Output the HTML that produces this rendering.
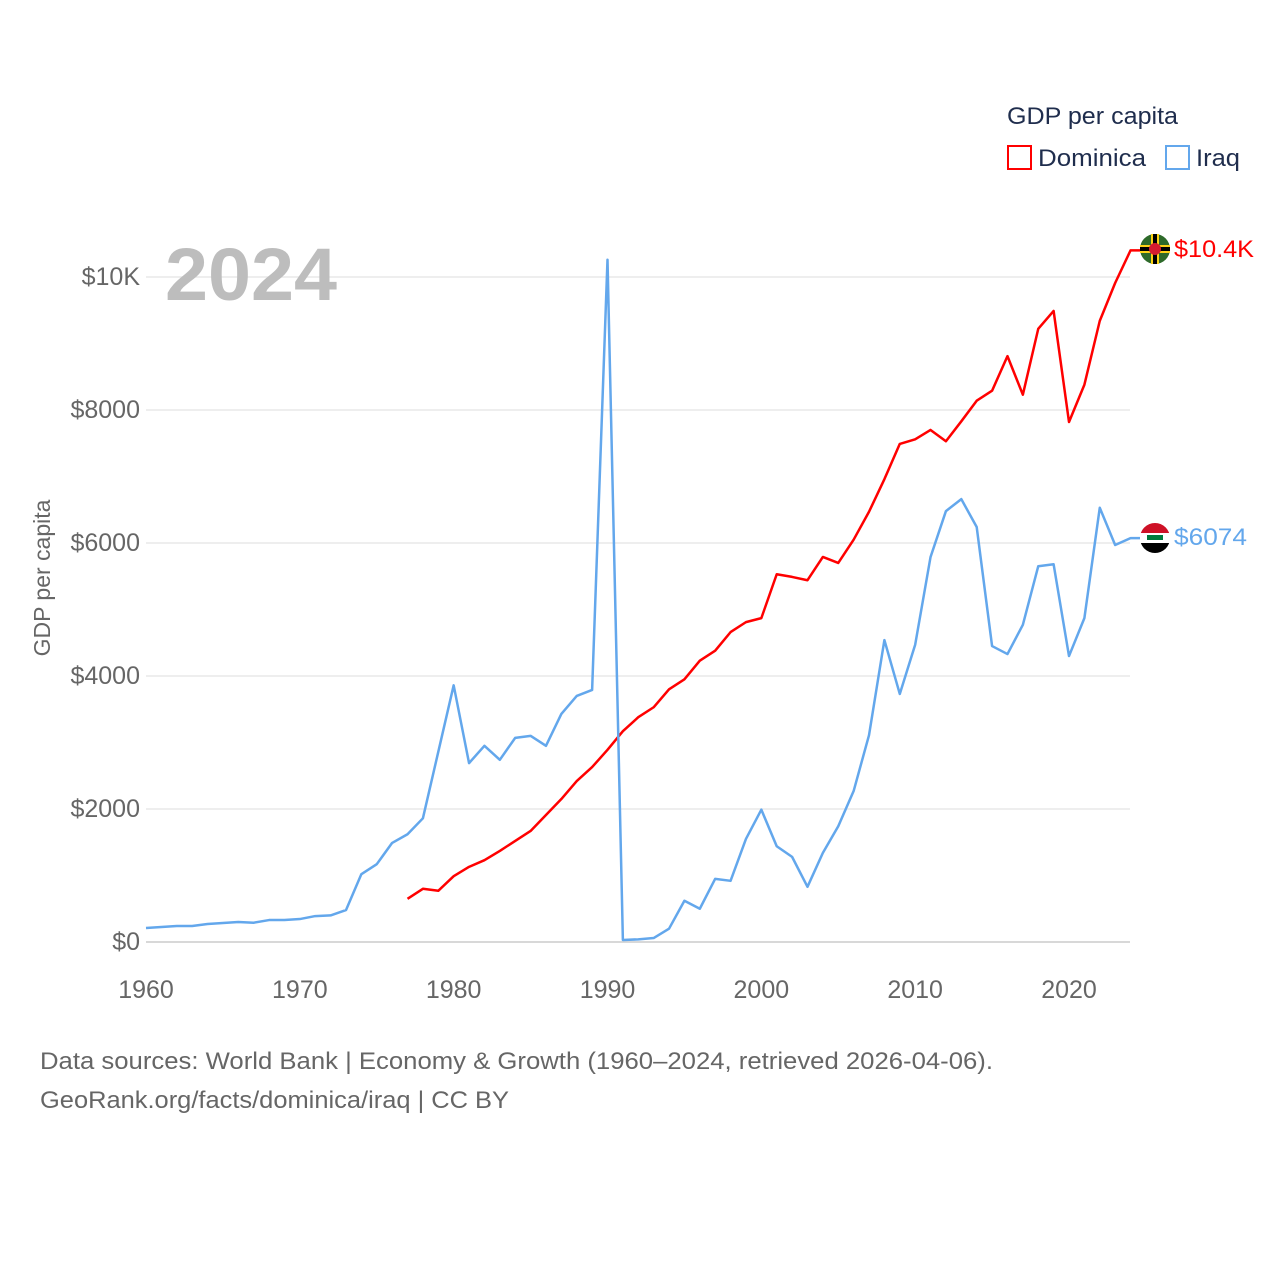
<!DOCTYPE html>
<html><head><meta charset="utf-8"><style>
body{margin:0;background:#fff;font-family:"Liberation Sans",sans-serif}
svg text{font-family:"Liberation Sans",sans-serif}
</style></head><body>
<svg id="chart" width="1280" height="1280" viewBox="0 0 1280 1280" xmlns="http://www.w3.org/2000/svg">
<rect width="1280" height="1280" fill="#fff"/>
<g id="grid"></g>
<g id="yticks"></g>
<g id="xticks"></g>
<text x="165" y="300" font-size="74" font-weight="bold" fill="#bdbdbd" textLength="172" lengthAdjust="spacingAndGlyphs">2024</text>
<text transform="translate(50,578) rotate(-90)" text-anchor="middle" font-size="23" fill="#666">GDP per capita</text>
<g id="series"></g>
<g>
<text x="1007" y="124" font-size="24" fill="#1f2d4d" textLength="171" lengthAdjust="spacingAndGlyphs">GDP per capita</text>
<g><rect x="1008" y="146" width="23" height="23" fill="none" stroke="#ff0000" stroke-width="2"/><text x="1038" y="166" font-size="24" fill="#1f2d4d" textLength="108" lengthAdjust="spacingAndGlyphs">Dominica</text></g>
<g><rect x="1166" y="146" width="23" height="23" fill="none" stroke="#63a7ec" stroke-width="2"/><text x="1196" y="166" font-size="24" fill="#1f2d4d" textLength="44" lengthAdjust="spacingAndGlyphs">Iraq</text></g>
</g>
<g>
<circle cx="1155" cy="249" r="15" fill="#2e6a2a"/><rect x="1140" y="245" width="30" height="8" fill="#fcd116"/><rect x="1151" y="234" width="8" height="30" fill="#fcd116"/><rect x="1140" y="247" width="30" height="4" fill="#000"/><rect x="1153" y="234" width="4" height="30" fill="#000"/><circle cx="1155" cy="249" r="6" fill="#d41c30"/></g>
<g>
<clipPath id="cf"><circle cx="1155" cy="538" r="15"/></clipPath>
<g clip-path="url(#cf)"><rect x="1140" y="523" width="30" height="10" fill="#ce1126"/><rect x="1140" y="533" width="30" height="10" fill="#fff"/><rect x="1140" y="543" width="30" height="10" fill="#000"/><rect x="1147" y="535" width="16" height="5" fill="#007a3d"/></g></g>
<text x="1174" y="257" font-size="24" fill="#ff0000" textLength="80" lengthAdjust="spacingAndGlyphs">$10.4K</text>
<text x="1174" y="545" font-size="24" fill="#63a7ec" textLength="73" lengthAdjust="spacingAndGlyphs">$6074</text>
<text x="40" y="1069" font-size="24" fill="#666" textLength="953" lengthAdjust="spacingAndGlyphs">Data sources: World Bank | Economy &amp; Growth (1960–2024, retrieved 2026-04-06).</text>
<text x="40" y="1108" font-size="24" fill="#666" textLength="469" lengthAdjust="spacingAndGlyphs">GeoRank.org/facts/dominica/iraq | CC BY</text>
</svg>
<script>
const domYears=[1977,1978,1979,1980,1981,1982,1983,1984,1985,1986,1987,1988,1989,1990,1991,1992,1993,1994,1995,1996,1997,1998,1999,2000,2001,2002,2003,2004,2005,2006,2007,2008,2009,2010,2011,2012,2013,2014,2015,2016,2017,2018,2019,2020,2021,2022,2023,2024];
const domValues=[650,800,770,990,1130,1230,1370,1520,1670,1910,2150,2420,2630,2890,3170,3380,3530,3800,3950,4230,4380,4660,4810,4870,5530,5490,5440,5790,5700,6050,6470,6960,7490,7560,7700,7530,7830,8140,8290,8810,8230,9220,9490,7820,8380,9340,9910,10400];
const iraqStart=1960;
const iraqValues=[210,225,240,240,270,285,300,290,330,330,345,390,400,480,1020,1170,1490,1620,1860,2860,3860,2690,2950,2740,3070,3100,2950,3430,3700,3790,10260,30,40,60,200,620,500,950,920,1550,1990,1440,1280,830,1340,1740,2270,3110,4540,3730,4470,5790,6480,6660,6240,4450,4330,4770,5650,5680,4300,4870,6530,5970,6074];
const yTicks=[0,2000,4000,6000,8000,10000];
const yTickLabels=["$0","$2000","$4000","$6000","$8000","$10K"];
const xTicks=[1960,1970,1980,1990,2000,2010,2020];
const NS="http://www.w3.org/2000/svg";
const x=y=>146+(y-1960)*923/60;
const yv=v=>942-v*0.0665;
function mk(t,a,p){const e=document.createElementNS(NS,t);for(const k in a)e.setAttribute(k,a[k]);p.appendChild(e);return e;}
const grid=document.getElementById('grid'),yt=document.getElementById('yticks'),xt=document.getElementById('xticks'),ser=document.getElementById('series');
yTicks.forEach((v,i)=>{
 const l=mk('line',{x1:146,x2:1130,y1:yv(v),y2:yv(v),stroke:v===0?'#ccc':'#e8e8e8','stroke-width':1.5},grid);
 
 
 const t=mk('text',{x:140,y:yv(v)+8,'text-anchor':'end','font-size':25,fill:'#666'},yt);
 
 
 t.textContent=yTickLabels[i];
});
xTicks.forEach(v=>{
 const t=mk('text',{x:x(v),y:998,'text-anchor':'middle','font-size':25,fill:'#666'},xt);
 
 
 t.textContent=v;
});
const dPts=domYears.map((y,i)=>x(y)+','+yv(domValues[i]));
dPts.push('1140,'+yv(domValues[domValues.length-1]));
const dl=mk('polyline',{points:dPts.join(' '),fill:'none',stroke:'#ff0000','stroke-width':2.5,'stroke-linejoin':'round'},ser);


const iPts=iraqValues.map((v,i)=>x(iraqStart+i)+','+yv(v));
iPts.push('1140,'+yv(iraqValues[iraqValues.length-1]));
const il=mk('polyline',{points:iPts.join(' '),fill:'none',stroke:'#63a7ec','stroke-width':2.5,'stroke-linejoin':'round'},ser);


</script>
</body></html>
